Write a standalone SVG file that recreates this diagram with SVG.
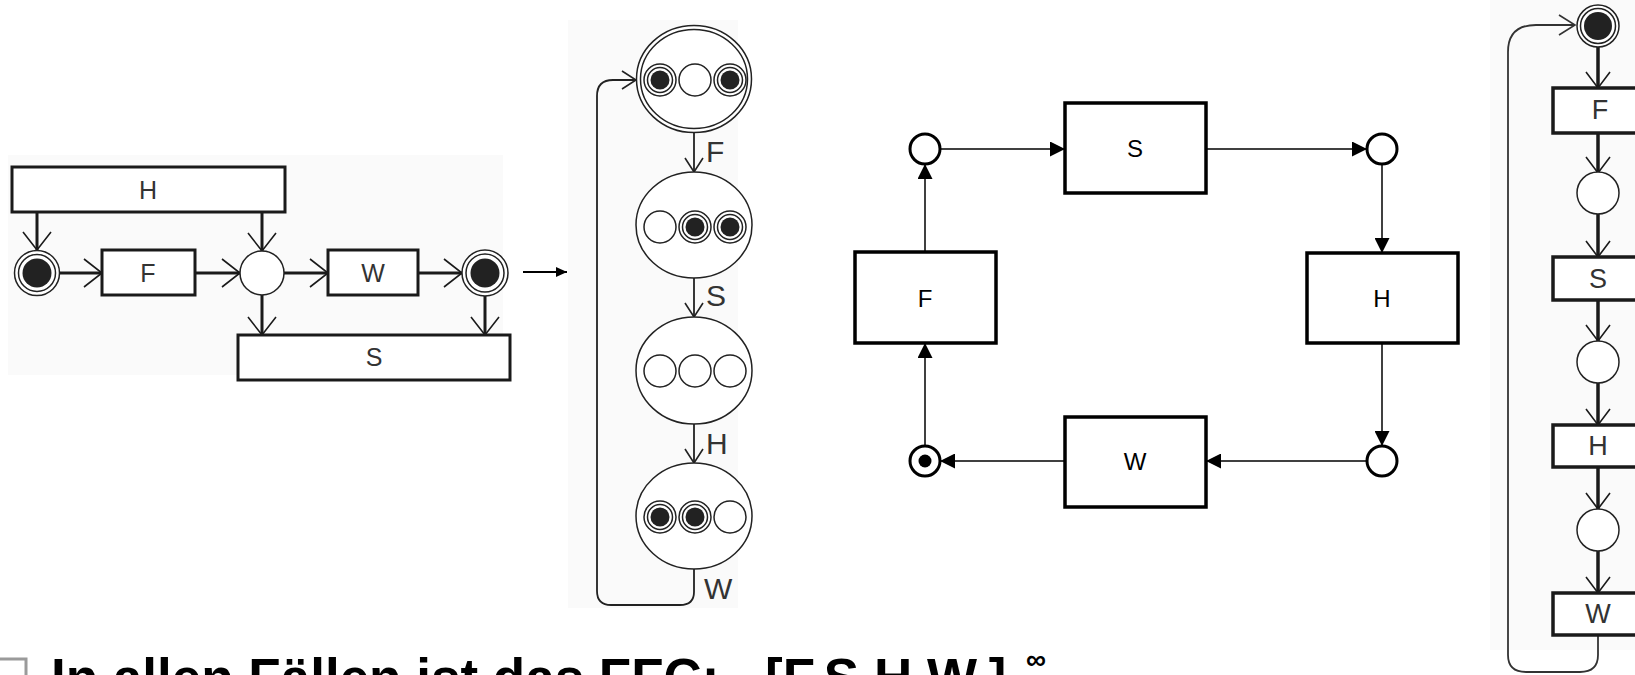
<svg xmlns="http://www.w3.org/2000/svg" width="1635" height="675" viewBox="0 0 1635 675">
<style>
text{font-family:"Liberation Sans",Arial,sans-serif;text-anchor:middle;dominant-baseline:central}
.bg{fill:#fafafa}
.lbox{fill:#fff;stroke:#1a1a1a;stroke-width:3}
.lt{font-size:25px;fill:#333}
.lc{stroke:#1a1a1a;stroke-width:3;fill:none;marker-end:url(#vL)}
.pl{fill:#fff;stroke:#222;stroke-width:1.5}
.tok{fill:#222}
.st{fill:#fff;stroke:#222;stroke-width:1.5}
.sti{fill:none;stroke:#222;stroke-width:1.5}
.sc{stroke:#222;stroke-width:1.8;fill:none;marker-end:url(#vM)}
.sl{font-size:30px;fill:#333;text-anchor:start}
.rbox{fill:#fff;stroke:#000;stroke-width:3.5}
.rt{font-size:24px;fill:#000}
.rc{stroke:#000;stroke-width:1.5;fill:none;marker-end:url(#tri)}
.rp{fill:#fff;stroke:#000;stroke-width:3}
.fbox{fill:#fff;stroke:#1a1a1a;stroke-width:3.5}
.ft{font-size:27px;fill:#333}
.fc{stroke:#1a1a1a;stroke-width:3.5;fill:none;marker-end:url(#vF)}
.fl{stroke:#333;stroke-width:1.8;fill:none;marker-end:url(#vFl)}
.cap{text-anchor:start;dominant-baseline:auto;font-size:53px;font-weight:bold;fill:#000}
</style>
<defs>
<marker id="vL" viewBox="0 0 18 28" refX="18" refY="14" markerWidth="18" markerHeight="28" orient="auto" markerUnits="userSpaceOnUse" overflow="visible"><path d="M0,0 L18,14 L0,28" fill="none" stroke="#1a1a1a" stroke-width="1.6"/></marker>
<marker id="vM" viewBox="0 0 14 18" refX="14" refY="9" markerWidth="14" markerHeight="18" orient="auto" markerUnits="userSpaceOnUse" overflow="visible"><path d="M0,0 L14,9 L0,18" fill="none" stroke="#222" stroke-width="1.6"/></marker>
<marker id="vF" viewBox="0 0 16 24" refX="16" refY="12" markerWidth="16" markerHeight="24" orient="auto" markerUnits="userSpaceOnUse" overflow="visible"><path d="M0,0 L16,12 L0,24" fill="none" stroke="#1a1a1a" stroke-width="1.6"/></marker>
<marker id="vFl" viewBox="0 0 16 20" refX="16" refY="10" markerWidth="16" markerHeight="20" orient="auto" markerUnits="userSpaceOnUse" overflow="visible"><path d="M0,0 L16,10 L0,20" fill="none" stroke="#333" stroke-width="1.6"/></marker>
<marker id="tri" viewBox="0 0 15 15" refX="15" refY="7.5" markerWidth="15" markerHeight="15" orient="auto" markerUnits="userSpaceOnUse"><path d="M0,0 L15,7.5 L0,15 Z" fill="#000"/></marker>
<marker id="triS" viewBox="0 0 11 10" refX="11" refY="5" markerWidth="11" markerHeight="10" orient="auto" markerUnits="userSpaceOnUse"><path d="M0,0 L11,5 L0,10 Z" fill="#000"/></marker>
</defs>
<rect width="1635" height="675" fill="#fff"/>
<rect class="bg" x="8" y="155" width="495" height="220"/>
<rect class="bg" x="568" y="20" width="170" height="588"/>
<rect class="bg" x="1490" y="0" width="145" height="650"/>

<g id="connectors">
  <path class="lc" d="M37,212 L37,250"/>
  <path class="lc" d="M262,212 L262,251"/>
  <path class="lc" d="M59,273 L102,273"/>
  <path class="lc" d="M195,273 L240,273"/>
  <path class="lc" d="M284,273 L328,273"/>
  <path class="lc" d="M418,273 L462,273"/>
  <path class="lc" d="M262,295 L262,335"/>
  <path class="lc" d="M485,296 L485,335"/>
  <path d="M523,272 L567,272" stroke="#000" stroke-width="2" fill="none" marker-end="url(#triS)"/>
  <path class="sc" d="M694,132 L694,172"/>
  <path class="sc" d="M694,278 L694,317"/>
  <path class="sc" d="M694,424 L694,463"/>
  <path class="sc" d="M694,569 L694,592 Q694,605 680,605 L611,605 Q597,605 597,591 L597,96 Q597,80 613,80 L636,80"/>
  <path class="rc" d="M940,149 L1065,149"/>
  <path class="rc" d="M1206,149 L1367,149"/>
  <path class="rc" d="M1382,164 L1382,253"/>
  <path class="rc" d="M1382,343 L1382,446"/>
  <path class="rc" d="M1367,461 L1206,461"/>
  <path class="rc" d="M1065,461 L940,461"/>
  <path class="rc" d="M925,446 L925,343"/>
  <path class="rc" d="M925,252 L925,164"/>
  <path class="fc" d="M1598,47 L1598,88"/>
  <path class="fc" d="M1598,133 L1598,173"/>
  <path class="fc" d="M1598,213 L1598,257"/>
  <path class="fc" d="M1598,300 L1598,341"/>
  <path class="fc" d="M1598,383 L1598,425"/>
  <path class="fc" d="M1598,467 L1598,509"/>
  <path class="fc" d="M1598,551 L1598,593"/>
  <path class="fl" d="M1598,635 L1598,655 Q1598,672 1580,672 L1526,672 Q1508,672 1508,655 L1508,52 Q1508,25 1536,25 L1575,25"/>
</g>

<g id="l-H"><rect class="lbox" x="12" y="167" width="273" height="45"/><text class="lt" x="148" y="190">H</text></g>
<g id="l-p1"><circle class="pl" cx="37" cy="273" r="22.5"/><circle class="pl" cx="37" cy="273" r="18.5"/><circle class="tok" cx="37" cy="273" r="14.5"/></g>
<g id="l-F"><rect class="lbox" x="102" y="250" width="93" height="45"/><text class="lt" x="148" y="273">F</text></g>
<g id="l-p2"><circle class="pl" cx="262" cy="273" r="22"/></g>
<g id="l-W"><rect class="lbox" x="328" y="250" width="90" height="45"/><text class="lt" x="373" y="273">W</text></g>
<g id="l-p3"><circle class="pl" cx="485" cy="273" r="23"/><circle class="pl" cx="485" cy="273" r="19"/><circle class="tok" cx="485" cy="273" r="14.5"/></g>
<g id="l-S"><rect class="lbox" x="238" y="335" width="272" height="45"/><text class="lt" x="374" y="357">S</text></g>

<g id="s1">
  <ellipse class="st" cx="694" cy="79" rx="57.5" ry="53.5"/>
  <ellipse class="sti" cx="694" cy="79" rx="53.5" ry="49.5"/>
  <circle class="pl" cx="660" cy="80" r="16"/><circle class="pl" cx="660" cy="80" r="12.5"/><circle class="tok" cx="660" cy="80" r="9.5"/>
  <circle class="pl" cx="695" cy="80" r="16"/>
  <circle class="pl" cx="730" cy="80" r="16"/><circle class="pl" cx="730" cy="80" r="12.5"/><circle class="tok" cx="730" cy="80" r="9.5"/>
</g>
<g id="s2">
  <ellipse class="st" cx="694" cy="225" rx="58" ry="53"/>
  <circle class="pl" cx="660" cy="227" r="16"/>
  <circle class="pl" cx="695" cy="227" r="16"/><circle class="pl" cx="695" cy="227" r="12.5"/><circle class="tok" cx="695" cy="227" r="9.5"/>
  <circle class="pl" cx="730" cy="227" r="16"/><circle class="pl" cx="730" cy="227" r="12.5"/><circle class="tok" cx="730" cy="227" r="9.5"/>
</g>
<g id="s3">
  <ellipse class="st" cx="694" cy="370.5" rx="58" ry="53.5"/>
  <circle class="pl" cx="660" cy="371" r="16"/>
  <circle class="pl" cx="695" cy="371" r="16"/>
  <circle class="pl" cx="730" cy="371" r="16"/>
</g>
<g id="s4">
  <ellipse class="st" cx="694" cy="516" rx="58" ry="53"/>
  <circle class="pl" cx="660" cy="517" r="16"/><circle class="pl" cx="660" cy="517" r="12.5"/><circle class="tok" cx="660" cy="517" r="9.5"/>
  <circle class="pl" cx="695" cy="517" r="16"/><circle class="pl" cx="695" cy="517" r="12.5"/><circle class="tok" cx="695" cy="517" r="9.5"/>
  <circle class="pl" cx="730" cy="517" r="16"/>
</g>
<g id="s-labels">
  <text class="sl" x="706" y="151">F</text>
  <text class="sl" x="706" y="295">S</text>
  <text class="sl" x="706" y="443">H</text>
  <text class="sl" x="704" y="588">W</text>
</g>

<g id="r-pTL"><circle class="rp" cx="925" cy="149" r="15"/></g>
<g id="r-S"><rect class="rbox" x="1065" y="103" width="141" height="90"/><text class="rt" x="1135" y="148">S</text></g>
<g id="r-pTR"><circle class="rp" cx="1382" cy="149" r="15"/></g>
<g id="r-H"><rect class="rbox" x="1307" y="253" width="151" height="90"/><text class="rt" x="1382" y="298">H</text></g>
<g id="r-pBR"><circle class="rp" cx="1382" cy="461" r="15"/></g>
<g id="r-W"><rect class="rbox" x="1065" y="417" width="141" height="90"/><text class="rt" x="1135" y="461">W</text></g>
<g id="r-pBL"><circle class="rp" cx="925" cy="461" r="15"/><circle fill="#000" cx="925" cy="461" r="6.5"/></g>
<g id="r-F"><rect class="rbox" x="855" y="252" width="141" height="91"/><text class="rt" x="925" y="298">F</text></g>

<g id="f-p0"><circle class="pl" cx="1598" cy="26" r="21"/><circle class="pl" cx="1598" cy="26" r="17.5"/><circle class="tok" cx="1598" cy="26" r="14"/></g>
<g id="f-F"><rect class="fbox" x="1553" y="88" width="100" height="45"/><text class="ft" x="1600" y="110">F</text></g>
<g id="f-p1"><circle class="pl" cx="1598" cy="193" r="21"/></g>
<g id="f-S"><rect class="fbox" x="1553" y="257" width="100" height="43"/><text class="ft" x="1598" y="279">S</text></g>
<g id="f-p2"><circle class="pl" cx="1598" cy="362" r="21"/></g>
<g id="f-H"><rect class="fbox" x="1553" y="425" width="100" height="42"/><text class="ft" x="1598" y="446">H</text></g>
<g id="f-p3"><circle class="pl" cx="1598" cy="530" r="21"/></g>
<g id="f-W"><rect class="fbox" x="1553" y="593" width="100" height="42"/><text class="ft" x="1598" y="614">W</text></g>

<g id="caption">
  <rect x="-10" y="659" width="36" height="40" fill="none" stroke="#9a9a9a" stroke-width="3"/>
  <text class="cap" x="51" y="696">In allen Fällen ist das FFC: <tspan x="765">[F,S,H,W,]</tspan></text>
  <text x="1026" y="669" style="text-anchor:start;dominant-baseline:auto;font-size:28px;font-weight:bold;fill:#000">∞</text>
</g>
</svg>
